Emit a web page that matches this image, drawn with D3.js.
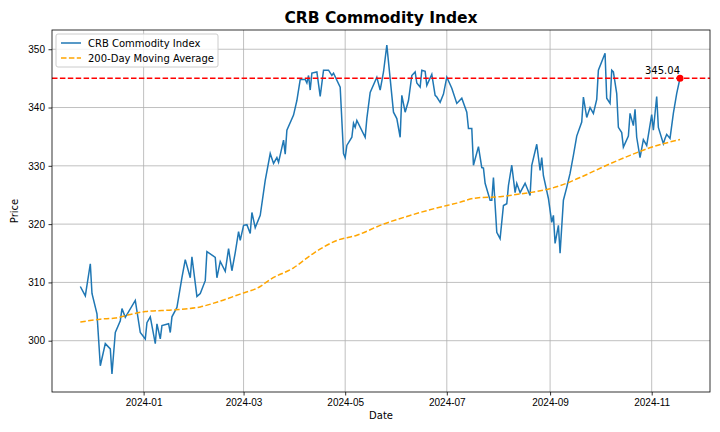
<!DOCTYPE html>
<html>
<head>
<meta charset="utf-8">
<script src="https://cdn.jsdelivr.net/npm/d3@7"></script>
<style>
  body { margin: 0; background: #fff; }
  svg { font-family: "DejaVu Sans", sans-serif; }
  .grid line { stroke: #b0b0b0; stroke-width: 0.8; }
  .axis path { display: none; }
  .axis line { stroke: #000; stroke-width: 0.8; }
  .axis text { font-size: 10px; fill: #000; }
</style>
</head>
<body>
<script>
// day offsets from 2024-01-01
var priceDays = [-38,-35,-32,-31,-28,-26,-23,-20,-19,-17,-14,-13,-11,-5,-2,1,2,4,7,8,10,11,15,16,17,20,23,25,28,29,32,34,37,38,43,44,46,49,51,53,55,57,58,60,62,64,65,67,70,73,76,78,80,81,84,85,86,90,92,94,97,98,99,100,101,104,106,108,111,113,114,118,120,121,122,125,126,127,128,133,134,136,140,142,144,146,150,152,154,155,157,159,161,163,164,166,167,169,170,173,175,176,178,180,182,185,188,191,194,195,197,198,201,203,204,205,208,209,210,212,214,216,218,219,221,223,224,226,229,232,233,236,238,239,240,243,245,246,247,249,250,252,254,256,258,260,263,264,266,268,270,272,273,277,278,280,281,282,284,285,287,288,291,292,294,295,296,298,300,302,305,306,308,309,312,313,314,316,318,320,322];
var priceValues = [309.3,307.7,313.2,308.1,304.6,295.7,299.5,298.6,294.3,301.4,303.4,305.5,304.0,306.9,301.4,300.3,303.1,304.1,299.5,302.9,300.3,302.6,302.9,301.4,304.1,305.7,310.8,313.9,310.8,314.4,307.6,308.1,310.3,315.3,314.3,310.8,313.6,311.9,315.8,312.0,315.1,318.7,317.2,319.8,319.9,318.4,322.0,319.4,321.5,327.5,332.1,330.4,331.4,330.6,334.4,332.0,336.1,338.7,341.2,344.8,344.8,344.2,345.5,343.0,345.9,346.1,341.9,346.4,346.4,345.5,345.9,343.5,332.1,331.4,333.5,334.9,337.3,336.6,337.8,334.9,338.1,342.6,345.2,343.0,346.1,350.7,339.2,338.1,334.9,342.1,339.2,341.2,345.5,346.1,344.2,343.5,346.4,346.2,343.8,345.7,342.1,341.8,340.9,342.3,345.2,343.3,340.7,341.6,339.2,336.4,336.4,330.1,333.3,329.7,329.6,327.0,324.1,324.1,328.0,318.6,317.5,323.2,323.5,326.6,330.1,325.4,327.0,325.4,327.0,324.9,330.1,333.7,329.2,331.4,328.3,324.4,320.3,321.5,316.7,319.8,315.0,324.1,326.3,328.7,331.8,335.1,337.5,341.8,338.3,340.0,339.0,341.4,346.4,349.3,341.6,340.7,346.4,346.1,342.4,336.6,335.7,333.2,335.1,339.0,336.9,339.7,334.9,331.4,334.5,333.5,338.8,336.1,341.9,336.6,333.8,334.7,335.4,334.7,339.0,342.4,345.04];
var maDays = [-38,-26,-17,-8,1,19,34,46,58,70,76,90,102,116,128,143,159,175,188,200,214,222,250,262,278,292,306,322];
var maValues = [303.2,303.7,303.9,304.5,305.0,305.3,305.8,306.8,308.0,309.3,310.5,312.5,315.0,317.2,318.1,319.9,321.4,322.7,323.6,324.5,324.7,325.0,326.6,328.0,330.1,331.8,333.3,334.5];
var yTicks = [300, 310, 320, 330, 340, 350];
var lastValue = 345.04;

var base = new Date(2024, 0, 1);
function toDate(d) { return d3.timeDay.offset(base, d); }

var width = 720, height = 432;
var margin = { top: 30, right: 10, bottom: 40, left: 52 };

var svg = d3.select('body').append('svg')
    .attr('width', width).attr('height', height);

var x = d3.scaleTime()
    .domain([toDate(-55), toDate(340)])
    .range([margin.left, width - margin.right]);
var y = d3.scaleLinear()
    .domain([291.2, 353.3])
    .range([height - margin.bottom, margin.top]);

var xTicks = [0, 2, 4, 6, 8, 10].map(function (m) { return new Date(2024, m, 1); });

// grid
var grid = svg.append('g').attr('class', 'grid');
grid.selectAll('.gx').data(xTicks).enter().append('line')
    .attr('x1', function (d) { return x(d); }).attr('x2', function (d) { return x(d); })
    .attr('y1', margin.top).attr('y2', height - margin.bottom);
grid.selectAll('.gy').data(yTicks).enter().append('line')
    .attr('y1', function (d) { return y(d); }).attr('y2', function (d) { return y(d); })
    .attr('x1', margin.left).attr('x2', width - margin.right);

var price = priceDays.map(function (d, i) { return { date: toDate(d), v: priceValues[i] }; });
var ma = maDays.map(function (d, i) { return { date: toDate(d), v: maValues[i] }; });

var line = d3.line()
    .x(function (d) { return x(d.date); })
    .y(function (d) { return y(d.v); });

svg.append('path').attr('d', line(price))
    .attr('fill', 'none').attr('stroke', '#1f77b4').attr('stroke-width', 1.5);
svg.append('path').attr('d', line.curve(d3.curveMonotoneX)(ma))
    .attr('fill', 'none').attr('stroke', 'orange').attr('stroke-width', 1.5)
    .attr('stroke-dasharray', '5.5,2.4');

// last value line
svg.append('line')
    .attr('x1', margin.left).attr('x2', width - margin.right)
    .attr('y1', y(lastValue)).attr('y2', y(lastValue))
    .attr('stroke', 'red').attr('stroke-width', 1.5).attr('stroke-dasharray', '5.5,2.4');
var last = price[price.length - 1];
svg.append('circle').attr('cx', x(last.date)).attr('cy', y(last.v)).attr('r', 3.5).attr('fill', 'red');
svg.append('text').attr('x', x(last.date)).attr('y', y(last.v) - 4)
    .attr('text-anchor', 'end').attr('font-size', 10).text(lastValue.toFixed(2));

// frame
svg.append('rect').attr('x', margin.left).attr('y', margin.top)
    .attr('width', width - margin.left - margin.right)
    .attr('height', height - margin.top - margin.bottom)
    .attr('fill', 'none').attr('stroke', '#000').attr('stroke-width', 0.8);

svg.append('g').attr('class', 'axis')
    .attr('transform', 'translate(0,' + (height - margin.bottom) + ')')
    .call(d3.axisBottom(x).tickValues(xTicks).tickFormat(d3.timeFormat('%Y-%m')).tickSizeOuter(0).tickSize(3.5).tickPadding(3.5));
svg.append('g').attr('class', 'axis')
    .attr('transform', 'translate(' + margin.left + ',0)')
    .call(d3.axisLeft(y).tickValues(yTicks).tickSizeOuter(0).tickSize(3.5).tickPadding(3.5));

svg.append('text').attr('x', (margin.left + width - margin.right) / 2).attr('y', 23)
    .attr('text-anchor', 'middle').attr('font-size', 15.5).attr('font-weight', 'bold')
    .text('CRB Commodity Index');
svg.append('text').attr('x', (margin.left + width - margin.right) / 2).attr('y', 419)
    .attr('text-anchor', 'middle').attr('font-size', 10).text('Date');
svg.append('text').attr('transform', 'translate(18,' + ((margin.top + height - margin.bottom) / 2) + ') rotate(-90)')
    .attr('text-anchor', 'middle').attr('font-size', 10).text('Price');

// legend
var lg = svg.append('g').attr('transform', 'translate(56,34)');
lg.append('rect').attr('width', 162).attr('height', 33).attr('rx', 2)
    .attr('fill', '#fff').attr('fill-opacity', 0.8).attr('stroke', '#ccc');
var items = [
  { label: 'CRB Commodity Index', color: '#1f77b4', dash: null },
  { label: '200-Day Moving Average', color: 'orange', dash: '5.5,2.4' }
];
items.forEach(function (it, i) {
  var yy = 9 + i * 15;
  lg.append('line').attr('x1', 5).attr('x2', 25).attr('y1', yy).attr('y2', yy)
    .attr('stroke', it.color).attr('stroke-width', 1.5).attr('stroke-dasharray', it.dash);
  lg.append('text').attr('x', 32).attr('y', yy + 3.5).attr('font-size', 10).text(it.label);
});
</script>
</body>
</html>
